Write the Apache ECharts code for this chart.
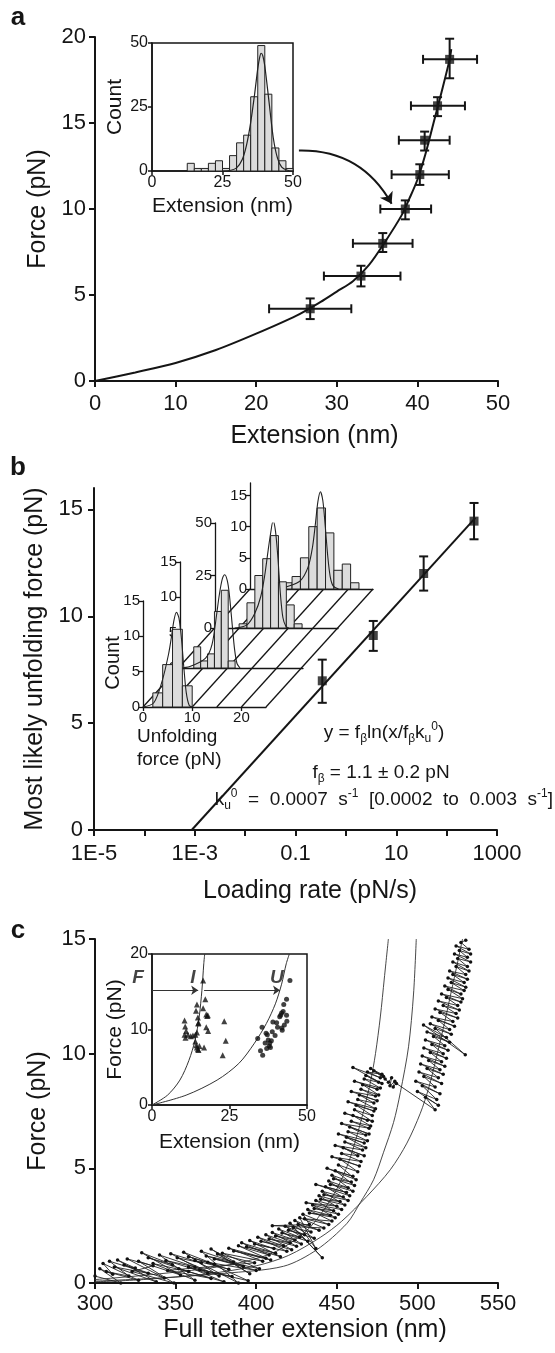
<!DOCTYPE html>
<html><head><meta charset="utf-8">
<script src="https://cdn.jsdelivr.net/npm/echarts@6/dist/echarts.min.js"></script>
<style>html,body{margin:0;padding:0;background:#fff}#chart{width:555px;height:1353px}</style>
</head><body><div id="chart"></div>
<script>
// ================= DATA =================
// ---- panel a: force-extension points with error bars ----
const aExt      = [26.7, 33.0, 35.7, 38.5, 40.3, 40.9, 42.5, 44.0];
const aForce    = [4.2, 6.1, 8.0, 10.0, 12.0, 14.0, 16.0, 18.7];
const aExtLo    = [21.6, 28.4, 32.0, 35.4, 36.8, 37.7, 39.2, 40.7];
const aExtHi    = [31.8, 37.9, 39.4, 41.7, 43.9, 44.0, 45.9, 47.4];
const aForceLo  = [3.6, 5.5, 7.5, 9.4, 11.4, 13.4, 15.4, 17.6];
const aForceHi  = [4.8, 6.7, 8.6, 10.5, 12.6, 14.5, 16.5, 19.9];
const aFitExt   = [0, 5, 10, 15, 20, 25, 28, 30, 32, 34, 36, 38, 39, 40, 41, 42, 43, 44, 44.2];
const aFitForce = [0, 0.5, 1.05, 1.8, 2.75, 3.8, 4.6, 5.2, 5.8, 6.75, 8.1, 9.6, 10.6, 11.7, 13.2, 15.0, 16.8, 18.7, 19.3];
const aArrowFrom = [25.3, 13.4];
const aArrowTo   = [36.8, 10.3];
// panel a inset histogram
const aHistCenter = [13.75, 16.25, 18.75, 21.25, 23.75, 26.25, 28.75, 31.25, 33.75, 36.25, 38.75, 41.25, 43.75, 46.25, 48.75];
const aHistCount  = [3, 1, 1, 3, 4, 1, 6, 11, 14, 29, 49, 30, 9, 4, 1];
const aHistWidth  = 2.5;
const aGaussExt   = [25, 28, 30, 32, 33.5, 35, 36.5, 37.5, 38.2, 38.7, 39.3, 40, 41.5, 43, 44.5, 46, 48, 50];
const aGaussCount = [0, 0.3, 1.2, 4.5, 10, 19, 31, 40, 44.5, 46, 45, 41, 27, 13, 5, 1.5, 0.3, 0];

// ---- panel b: loading-rate dependence ----
const bRate      = [0.34, 3.5, 35, 350];
const bForce     = [6.98, 9.1, 12.0, 14.45];
const bForceLo   = [5.95, 8.38, 11.2, 13.6];
const bForceHi   = [7.97, 9.78, 12.8, 15.3];
const bFitRate   = [0.00087, 372];
const bFitForce  = [0, 14.6];
const bTickValues = [1e-5, 1e-4, 1e-3, 1e-2, 0.1, 1, 10, 100, 1000];
const bLabelValues = [1e-5, 1e-3, 0.1, 10, 1000];
const bLabelTexts  = ['1E-5', '1E-3', '0.1', '10', '1000'];
// panel b inset histograms (front to back)
const h1Center = [3, 5, 7, 9];                    const h1Count = [2, 6, 11, 3];          const h1Width = 2;
const h2Center = [3.5, 4.9, 6.3, 7.7, 9.1, 10.5]; const h2Count = [3, 1, 2, 8, 11, 1];    const h2Width = 1.4;
const h3Center = [5.7, 7.3, 8.9, 10.5, 12.1, 13.7, 15.3, 16.9]; const h3Count = [2, 12, 25, 33, 44, 22, 11, 2]; const h3Width = 1.6;
const h4Center = [7.7, 9.4, 11.1, 12.8, 14.5, 16.2, 17.9, 19.6, 21.3]; const h4Count = [1, 2, 5, 10, 13, 9, 3, 4, 1]; const h4Width = 1.7;
const g1X = [0, 2.2, 3.9, 5.2, 5.8, 6.3, 6.8, 7.3, 7.8, 8.3, 8.8, 9.4, 10];
const g1Y = [0, 0.6, 3.7, 7.5, 10, 12.3, 13.4, 12.6, 9.8, 5.6, 2, 0.2, 0];
const g2X = [0, 2, 5.2, 6.5, 7.45, 8.0, 8.6, 9.1, 9.6, 10.0, 10.6, 11.1, 11.6, 12.2];
const g2Y = [0, 0.2, 1.4, 3.3, 7.6, 10.4, 12.6, 13.2, 12.4, 10.6, 6.2, 2.6, 0.6, 0];
const g3X = [4, 6.5, 8.1, 9.3, 10.1, 10.8, 11.3, 11.8, 12.3, 12.8, 13.3, 13.8, 14.4, 15];
const g3Y = [0, 1.5, 7, 15, 25, 37, 45, 51, 46, 33, 16, 5, 0.8, 0];
const g4X = [6, 7.3, 10.2, 11.8, 12.7, 13.3, 13.8, 14.3, 14.8, 15.3, 15.8, 16.3, 16.9, 18];
const g4Y = [0, 0.3, 1.3, 3.5, 6.7, 10.5, 14, 15.6, 14.2, 10, 5.3, 2, 0.5, 0];
const floorTicks = [0, 5, 10, 15, 20, 25];

// ---- panel c: full tether trace, [extension nm, force pN] in time order ----
const cTrace = [
 [300,0.3],[316,0.0],[303,0.62],[311,0.38],[305,0.85],[327,0.12],[307,0.5],[321,0.3],[309,0.95],[333,0.42],
 [312,0.7],[338,0.05],[314,1.0],[325,0.65],[318,0.78],[343,0.22],[320,1.05],[336,0.75],[323,0.5],[349,0.0],
 [327,0.95],[353,0.35],[329,1.32],[348,0.8],[333,1.1],[358,0.5],[336,0.85],[362,0.12],[340,1.22],[362,0.7],
 [344,0.98],[370,0.42],[347,1.28],[366,0.88],[351,1.1],[377,0.3],[355,1.34],[374,0.82],[358,1.15],[383,0.6],
 [362,0.98],[389,0.0],[366,1.38],[386,0.92],[369,1.18],[392,0.72],[372,1.48],[396,0.4],[376,1.26],[399,0.88],
 [345,0.55],[372,0.2],[352,0.62],[380,0.05],[358,0.7],[385,0.28],[365,0.58],[395,0.1],[370,0.9],[400,0.55],
 [374,1.05],[402,0.62],[379,1.3],[404,0.95],[383,1.52],[406,1.08],[386,1.4],[409,1.0],[389,1.62],[408,1.22],
 [391,1.75],[412,1.3],[394,1.58],[415,1.15],[396,1.85],[411,1.5],[399,1.7],[419,1.38],[401,2.0],[417,1.62],
 [403,1.82],[422,1.45],[406,2.1],[421,1.75],[408,1.92],[425,1.6],[410,2.2],[424,1.88],[412,2.05],[428,1.7],
 [414,2.35],[427,2.0],[416,2.18],[432,1.82],[418,2.48],[430,2.1],[420,2.3],[436,1.95],[421,2.6],[441,1.1],
 [423,2.42],[434,2.22],[424,2.72],[439,2.3],[426,2.55],[437,1.5],[427,2.85],[442,2.4],[410,2.5],[433,2.55],
 [429,3.0],[445,2.55],[430,2.8],[447,2.7],[432,3.2],[446,2.95],[433,3.05],[449,2.85],[435,3.4],[448,3.15],
 [436,3.25],[451,3.0],[437,3.6],[450,3.35],[431,3.5],[453,3.2],[439,3.8],[452,3.55],[440,3.65],[455,3.4],
 [441,4.0],[454,3.75],[442,3.85],[457,3.6],[443,4.2],[456,3.95],[437,4.3],[458,3.8],[445,4.45],[457,4.15],
 [446,4.3],[460,4.0],[447,4.7],[459,4.4],[448,4.55],[461,4.25],[449,4.9],[460,4.65],[444,5.0],[462,4.5],
 [451,5.15],[463,4.85],[452,5.4],[464,5.1],[447,5.5],[465,5.3],[453,5.65],[463,5.55],[454,5.9],[467,5.55],
 [449,6.0],[466,5.8],[455,6.15],[468,5.9],[456,6.35],[467,6.1],[451,6.5],[469,6.2],[457,6.6],[468,6.45],
 [458,6.8],[470,6.5],[453,6.95],[470,6.75],[459,7.05],[471,6.85],[460,7.3],[469,7.1],[455,7.4],[472,7.05],
 [461,7.55],[472,7.3],[462,7.75],[473,7.5],[457,7.9],[474,7.6],[463,8.0],[473,7.85],[464,8.2],[475,7.95],
 [459,8.35],[474,8.15],[465,8.45],[476,8.2],[466,8.65],[475,8.45],[461,8.8],[477,8.5],[467,8.9],[476,8.75],
 [468,9.05],[478,8.7],[460,9.4],[477,8.95],[469,9.2],[478,9.1],[471,9.35],[479,9.0],[473,9.25],[480,8.9],
 [482,8.75],[484,8.95],[483,8.6],[486,8.8],[485,8.55],[487,8.7],[511,7.55],
 [505,8.1],[513,7.75],[500,8.35],[512,8.0],[503,8.6],[514,8.25],[499,8.8],[511,8.55],[504,9.0],[515,8.7],
 [501,9.2],[513,8.95],[506,9.35],[516,9.1],[502,9.55],[514,9.3],[507,9.7],[517,9.45],[503,9.9],[515,9.65],
 [508,10.05],[518,9.8],[504,10.25],[516,10.0],[509,10.4],[519,10.15],[505,10.6],[517,10.35],[510,10.75],[520,10.5],
 [506,10.95],[518,10.7],[503.8,11.25],[529.7,9.95],[511,11.1],[521,10.85],[508,11.3],[520,11.05],[513,11.45],[523,11.2],
 [509,11.6],[522,11.4],[514,11.8],[525,11.55],[511,11.95],[524,11.75],[516,12.1],[526,11.9],[513,12.3],[525,12.1],
 [518,12.45],[527,12.25],[515,12.6],[528,12.4],[519,12.8],[527,12.6],[517,12.95],[529,12.75],[521,13.1],[530,12.9],
 [519,13.3],[529,13.1],[522,13.45],[531,13.25],[520,13.6],[530,13.45],[524,13.8],[532,13.6],[522,14.0],[531,13.8],
 [525,14.15],[533,14.0],[523,14.35],[531,14.2],[526,14.5],[533,14.35],[524,14.7],[532,14.55],[527,14.85],[530,14.95]
];
const cCurveAExt   = [300, 340, 380, 410, 430, 440, 450, 457, 462, 467, 471, 474, 477, 479.5, 482];
const cCurveAForce = [0.15, 0.4, 0.75, 1.3, 2.2, 3.0, 4.1, 5.2, 6.3, 7.6, 8.8, 10.0, 11.6, 13.3, 15];
const cCurveBExt   = [300, 340, 380, 417, 437.6, 456.3, 464.5, 472.8, 479, 485.2, 489.4, 494.5, 497.6, 499.3];
const cCurveBForce = [0.08, 0.22, 0.42, 0.73, 1.45, 2.6, 3.5, 4.5, 5.7, 7.0, 8.3, 10.3, 12.6, 15];
const cCurveCExt   = [300, 330, 370, 400, 420, 440, 453, 468.7, 483.2, 493.5, 501.8, 507, 512, 517, 521, 525, 528];
const cCurveCForce = [0.05, 0.15, 0.4, 0.75, 1.2, 2.0, 2.69, 3.78, 4.94, 6.1, 7.4, 8.5, 9.9, 11.4, 12.7, 14, 15];
// panel c inset
const ciTriExt   = [10.5,10.7,11.0,10.5,10.8,11.6,12.5,13.2,14.0,14.5,14.9,14.8,14.5,14.2,15.0,16.5,17.2,17.5,17.8,18.0,17.5,18.1,16.8,15.3,14.8,14.3,14.0,15.0,14.5,23.3,23.8,22.8,16.5];
const ciTriForce = [11.2,10.4,9.8,9.3,8.9,9.3,9.1,9.2,9.3,9.6,10.8,11.6,13.3,12.5,10.9,16.5,14.0,12.0,11.8,11.9,10.3,9.8,7.6,7.8,7.4,7.9,8.4,7.3,7.6,11.1,8.5,6.6,12.8];
const ciDotExt   = [34.1,35.5,35.0,35.7,36.5,36.8,37.2,37.5,37.8,38.2,38.5,37.0,38.8,39.0,39.7,40.5,40.2,41.2,41.8,42.3,41.5,42.5,43.4,44.5,41.9,42.7,43.5,43.4,42.0,38.0];
const ciDotForce = [8.8,10.3,7.2,6.6,8.2,9.5,9.3,8.6,7.8,7.6,8.5,7.5,9.7,11.0,9.2,10.3,10.9,11.7,12.2,12.4,11.9,13.3,14.0,16.5,10.2,10.6,11.1,11.9,9.9,8.2];
const ciCurveIExt   = [0, 5, 9, 11.9, 13.9, 15.2, 16.1, 16.7, 17.0];
const ciCurveIForce = [0, 1.3, 3.3, 5.9, 8.6, 11.6, 15.2, 18.7, 20];
const ciCurveUExt   = [0, 11, 21, 28, 32.9, 36.9, 39.8, 41.8, 43.3, 44.3];
const ciCurveUForce = [0, 1.3, 3.3, 5.5, 8.1, 10.8, 13.4, 16, 18.7, 20];
const ciArrows = [[[0, 15.2], [14.9, 15.2]], [[16.8, 15.2], [41.3, 15.2]]];
const ciStateNames = ['F', 'I', 'U'];
const ciStateExt   = [-4.5, 13.2, 40.3];
const ciStateForce = [16.8, 16.8, 16.8];

// ================= STYLE HELPERS =================
const FONT = "'Liberation Sans', Arial, Helvetica, sans-serif";
const INK = '#151515';
const zip = (a, b) => a.map((v, i) => [v, b[i]]);

function axisBase(opts) {
  const lw = opts.lw || 2;
  return {
    type: 'value',
    axisLine: { show: true, onZero: false, lineStyle: { color: INK, width: lw } },
    axisTick: { show: true, inside: false, length: opts.tick || 6, lineStyle: { color: INK, width: lw } },
    axisLabel: { show: true, color: INK, fontFamily: FONT, fontSize: opts.fs || 22, margin: opts.margin || 10 },
    splitLine: { show: false },
    nameTextStyle: { color: INK, fontFamily: FONT, fontSize: opts.nfs || 25 }
  };
}
function mergeDeep(a, b) {
  for (const k in b) {
    if (b[k] && typeof b[k] === 'object' && !Array.isArray(b[k]) && a[k] && typeof a[k] === 'object') mergeDeep(a[k], b[k]);
    else a[k] = b[k];
  }
  return a;
}
function mkAxis(base, extra) { return mergeDeep(axisBase(base), extra); }

function errRender(params, api) {
  const x = api.value(0), y = api.value(1);
  const xl = api.value(2), xh = api.value(3), yl = api.value(4), yh = api.value(5);
  const st = { stroke: INK, lineWidth: 2 };
  const cap = 4.5;
  const kids = [];
  if (xl !== xh) {
    const L = api.coord([xl, y]), R = api.coord([xh, y]);
    kids.push({ type: 'line', shape: { x1: L[0], y1: L[1], x2: R[0], y2: R[1] }, style: st });
    kids.push({ type: 'line', shape: { x1: L[0], y1: L[1] - cap, x2: L[0], y2: L[1] + cap }, style: st });
    kids.push({ type: 'line', shape: { x1: R[0], y1: R[1] - cap, x2: R[0], y2: R[1] + cap }, style: st });
  }
  const T = api.coord([x, yh]), B = api.coord([x, yl]);
  kids.push({ type: 'line', shape: { x1: T[0], y1: T[1], x2: B[0], y2: B[1] }, style: st });
  kids.push({ type: 'line', shape: { x1: T[0] - cap, y1: T[1], x2: T[0] + cap, y2: T[1] }, style: st });
  kids.push({ type: 'line', shape: { x1: B[0] - cap, y1: B[1], x2: B[0] + cap, y2: B[1] }, style: st });
  return { type: 'group', children: kids };
}
function barRender(params, api) {
  const c = api.value(0), n = api.value(1), w = api.value(2);
  const p1 = api.coord([c - w / 2, n]), p2 = api.coord([c + w / 2, 0]);
  return { type: 'rect', shape: { x: p1[0], y: p1[1], width: p2[0] - p1[0], height: p2[1] - p1[1] },
           style: { fill: '#dcdcdc', stroke: '#222', lineWidth: 1 } };
}
function histSeries(idx, centers, counts, width, gx, gy, z) {
  return [
    { type: 'custom', xAxisIndex: idx, yAxisIndex: idx, renderItem: barRender, z: z, clip: false,
      data: centers.map((c, i) => [c, counts[i], width]) },
    { type: 'line', xAxisIndex: idx, yAxisIndex: idx, data: zip(gx, gy), smooth: 0.3, showSymbol: false, z: z + 0.5,
      lineStyle: { color: '#222', width: 1.1 } }
  ];
}

// ================= GRIDS =================
const grids = [
  { left: 95, top: 37, width: 403, height: 344 },                  // 0 a main
  { left: 152, top: 43, width: 141, height: 128, show: true, backgroundColor: '#fff', borderColor: INK, borderWidth: 1.5 }, // 1 a inset
  { left: 94, top: 488, width: 403, height: 342 },                 // 2 b main
  { left: 143, top: 601, width: 123, height: 106 },                // 3 hist 1 (front)
  { left: 180, top: 562, width: 123, height: 106 },                // 4 hist 2
  { left: 215, top: 523, width: 123, height: 105 },                // 5 hist 3
  { left: 250, top: 483, width: 123, height: 106 },                // 6 hist 4 (back)
  { left: 95, top: 939, width: 403, height: 344 },                 // 7 c main
  { left: 152, top: 954, width: 155, height: 151, show: true, backgroundColor: '#fff', borderColor: INK, borderWidth: 1.5 } // 8 c inset
].map(g => Object.assign({ containLabel: false, outerBoundsMode: 'none' }, g));

const insetAx = { lw: 1.5, tick: 4, fs: 16, margin: 4, nfs: 21 };
const histAx = { lw: 1.3, tick: 4, fs: 15, margin: 3 };

const xAxes = [
  mkAxis({ margin: 12 }, { gridIndex: 0, min: 0, max: 50, interval: 10, name: 'Extension (nm)', nameLocation: 'middle', nameGap: 43, nameTextStyle: { padding: [0, 0, 0, 36] } }),
  mkAxis(insetAx, { gridIndex: 1, min: 0, max: 50, interval: 25, name: 'Extension (nm)', nameLocation: 'middle', nameGap: 25 }),
  mkAxis({ margin: 13 }, { gridIndex: 2, type: 'log', logBase: 10, min: 1e-5, max: 1000,
    axisTick: { customValues: bTickValues },
    axisLabel: { customValues: bLabelValues, formatter: v => { const i = bLabelValues.findIndex(t => Math.abs(Math.log10(t) - Math.log10(v)) < 1e-6); return i >= 0 ? bLabelTexts[i] : ''; } },
    name: 'Loading rate (pN/s)', nameLocation: 'middle', nameGap: 49, nameTextStyle: { padding: [0, 0, 0, 29] } }),
  mkAxis(histAx, { gridIndex: 3, min: 0, max: 25, axisTick: { customValues: [0, 10, 20] }, axisLabel: { customValues: [0, 10, 20] } }),
  mkAxis(histAx, { gridIndex: 4, min: 0, max: 25, axisTick: { show: false }, axisLabel: { show: false } }),
  mkAxis(histAx, { gridIndex: 5, min: 0, max: 25, axisTick: { show: false }, axisLabel: { show: false } }),
  mkAxis(histAx, { gridIndex: 6, min: 0, max: 25, axisTick: { show: false }, axisLabel: { show: false } }),
  mkAxis({ margin: 10 }, { gridIndex: 7, min: 300, max: 550, interval: 50, name: 'Full tether extension (nm)', nameLocation: 'middle', nameGap: 35, nameTextStyle: { padding: [0, 0, 0, 17] } }),
  mkAxis(insetAx, { gridIndex: 8, min: 0, max: 50, interval: 25, name: 'Extension (nm)', nameLocation: 'middle', nameGap: 27 })
];
const yAxes = [
  mkAxis({ margin: 9 }, { gridIndex: 0, min: 0, max: 20, interval: 5, name: 'Force (pN)', nameLocation: 'middle', nameGap: 37 }),
  mkAxis(insetAx, { gridIndex: 1, min: 0, max: 50, interval: 25, name: 'Count', nameLocation: 'middle', nameGap: 26 }),
  mkAxis({ margin: 11 }, { gridIndex: 2, min: 0, max: 16, axisTick: { customValues: [0, 5, 10, 15] }, axisLabel: { customValues: [0, 5, 10, 15] },
    name: 'Most likely unfolding force (pN)', nameLocation: 'middle', nameGap: 39 }),
  mkAxis(histAx, { gridIndex: 3, min: 0, max: 15, axisTick: { customValues: [0, 5, 10, 15] }, axisLabel: { customValues: [0, 5, 10, 15] } }),
  mkAxis(histAx, { gridIndex: 4, min: 0, max: 15, axisTick: { customValues: [0, 5, 10, 15] }, axisLabel: { customValues: [0, 5, 10, 15] } }),
  mkAxis(histAx, { gridIndex: 5, min: 0, max: 50, axisTick: { customValues: [0, 25, 50] }, axisLabel: { customValues: [0, 25, 50] } }),
  mkAxis(histAx, { gridIndex: 6, min: 0, max: 17, axisTick: { customValues: [0, 5, 10, 15] }, axisLabel: { customValues: [0, 5, 10, 15] } }),
  mkAxis({ margin: 9 }, { gridIndex: 7, min: 0, max: 15, interval: 5, name: 'Force (pN)', nameLocation: 'middle', nameGap: 38 }),
  mkAxis(insetAx, { gridIndex: 8, min: 0, max: 20, interval: 10, name: 'Force (pN)', nameLocation: 'middle', nameGap: 26 })
];

// ================= SERIES =================
const series = [
  // a main
  { type: 'line', xAxisIndex: 0, yAxisIndex: 0, data: zip(aFitExt, aFitForce), smooth: 0.3, showSymbol: false, lineStyle: { color: INK, width: 2 }, z: 2 },
  { type: 'custom', xAxisIndex: 0, yAxisIndex: 0, renderItem: errRender, z: 3, clip: false,
    data: aExt.map((v, i) => [v, aForce[i], aExtLo[i], aExtHi[i], aForceLo[i], aForceHi[i]]) },
  { type: 'scatter', xAxisIndex: 0, yAxisIndex: 0, data: zip(aExt, aForce), symbol: 'rect', symbolSize: 9, itemStyle: { color: INK }, z: 4 },
  { type: 'lines', coordinateSystem: 'cartesian2d', xAxisIndex: 0, yAxisIndex: 0, symbol: ['none', 'arrow'], symbolSize: 11,
    lineStyle: { color: INK, width: 2, curveness: 0.3, opacity: 1 }, data: [{ coords: [aArrowFrom, aArrowTo] }], z: 5 },
  // a inset
  { type: 'custom', xAxisIndex: 1, yAxisIndex: 1, renderItem: barRender, z: 3, data: aHistCenter.map((c, i) => [c, aHistCount[i], aHistWidth]) },
  { type: 'line', xAxisIndex: 1, yAxisIndex: 1, data: zip(aGaussExt, aGaussCount), smooth: 0.3, showSymbol: false, lineStyle: { color: '#222', width: 1.2 }, z: 4 },
  // b main
  { type: 'line', xAxisIndex: 2, yAxisIndex: 2, data: zip(bFitRate, bFitForce), showSymbol: false, lineStyle: { color: INK, width: 2 }, z: 2 },
  { type: 'custom', xAxisIndex: 2, yAxisIndex: 2, renderItem: errRender, z: 3, clip: false,
    data: bRate.map((v, i) => [v, bForce[i], v, v, bForceLo[i], bForceHi[i]]) },
  { type: 'scatter', xAxisIndex: 2, yAxisIndex: 2, data: zip(bRate, bForce), symbol: 'rect', symbolSize: 9, itemStyle: { color: INK }, z: 4 },
  // b inset histograms (back to front by z)
  ...histSeries(6, h4Center, h4Count, h4Width, g4X, g4Y, 3),
  ...histSeries(5, h3Center, h3Count, h3Width, g3X, g3Y, 5),
  ...histSeries(4, h2Center, h2Count, h2Width, g2X, g2Y, 7),
  ...histSeries(3, h1Center, h1Count, h1Width, g1X, g1Y, 9),
  // c main
  { type: 'line', xAxisIndex: 7, yAxisIndex: 7, data: zip(cCurveAExt, cCurveAForce), smooth: 0.3, showSymbol: false, lineStyle: { color: '#333', width: 0.9 }, z: 2 },
  { type: 'line', xAxisIndex: 7, yAxisIndex: 7, data: zip(cCurveBExt, cCurveBForce), smooth: 0.3, showSymbol: false, lineStyle: { color: '#333', width: 0.9 }, z: 2 },
  { type: 'line', xAxisIndex: 7, yAxisIndex: 7, data: zip(cCurveCExt, cCurveCForce), smooth: 0.3, showSymbol: false, lineStyle: { color: '#333', width: 0.9 }, z: 2 },
  { type: 'line', xAxisIndex: 7, yAxisIndex: 7, data: cTrace, symbol: 'circle', symbolSize: 3.5, showAllSymbol: true,
    itemStyle: { color: '#111' }, lineStyle: { color: '#222', width: 0.9 }, z: 3 },
  // c inset
  { type: 'line', xAxisIndex: 8, yAxisIndex: 8, data: zip(ciCurveIExt, ciCurveIForce), smooth: 0.3, showSymbol: false, lineStyle: { color: '#333', width: 1 }, z: 3 },
  { type: 'line', xAxisIndex: 8, yAxisIndex: 8, data: zip(ciCurveUExt, ciCurveUForce), smooth: 0.3, showSymbol: false, lineStyle: { color: '#333', width: 1 }, z: 3 },
  { type: 'scatter', xAxisIndex: 8, yAxisIndex: 8, data: zip(ciTriExt, ciTriForce), symbol: 'triangle', symbolSize: 6, itemStyle: { color: '#111' }, z: 4 },
  { type: 'scatter', xAxisIndex: 8, yAxisIndex: 8, data: zip(ciDotExt, ciDotForce), symbol: 'circle', symbolSize: 5, itemStyle: { color: '#111' }, z: 4 },
  { type: 'lines', coordinateSystem: 'cartesian2d', xAxisIndex: 8, yAxisIndex: 8, symbol: ['none', 'arrow'], symbolSize: 7,
    lineStyle: { color: '#333', width: 1, opacity: 1 }, data: ciArrows.map(c => ({ coords: c })), z: 5 },
  { type: 'scatter', xAxisIndex: 8, yAxisIndex: 8, clip: false, symbolSize: 0, z: 6,
    data: ciStateNames.map((n, i) => ({ value: [ciStateExt[i], ciStateForce[i]], name: n })),
    label: { show: true, position: 'inside', formatter: p => p.name, color: INK, fontFamily: FONT, fontSize: 19, fontStyle: 'italic', fontWeight: 'bold' } }
];

const chart = echarts.init(document.getElementById('chart'), null, { renderer: 'canvas' });
chart.setOption({ animation: false, backgroundColor: '#fff', grid: grids, xAxis: xAxes, yAxis: yAxes, series: series });

// ================= ANNOTATION GRAPHICS =================
const txt = (id, x, y, text, fs, extra) => ({ id, type: 'text', x, y, z: 20,
  style: Object.assign({ text, fill: INK, fontFamily: FONT, fontSize: fs, align: 'center', verticalAlign: 'middle', textAlign: 'center', textVerticalAlign: 'middle' }, extra || {}) });
const richEq = { sub: { fontSize: 12, verticalAlign: 'bottom', lineHeight: 12, fontFamily: FONT, fill: INK },
                 sup: { fontSize: 12, verticalAlign: 'top', lineHeight: 12, fontFamily: FONT, fill: INK } };
const eqStyle = { lineHeight: 24, rich: richEq };
const graphics = [
  txt('la', 18, 18, 'a', 26, { fontWeight: 'bold' }),
  txt('lb', 18, 468, 'b', 26, { fontWeight: 'bold' }),
  txt('lc', 18, 931, 'c', 26, { fontWeight: 'bold' }),
  txt('eq1', 384, 733, 'y = f{sub|β}ln(x/f{sub|β}k{sub|u}{sup|0})', 19, eqStyle),
  txt('eq2', 381, 773, 'f{sub|β} = 1.1 ± 0.2 pN', 19, eqStyle),
  txt('eq3', 553, 800, 'k{sub|u}{sup|0}  =  0.0007  s{sup|-1}  [0.0002  to  0.003  s{sup|-1}]', 19, Object.assign({ align: 'right', textAlign: 'right' }, eqStyle)),
  { id: 'bcount', type: 'text', x: 113, y: 663, rotation: Math.PI / 2, z: 20,
    style: { text: 'Count', fill: INK, fontFamily: FONT, fontSize: 20, align: 'center', verticalAlign: 'middle', textAlign: 'center', textVerticalAlign: 'middle' } },
  txt('bunf1', 137, 737, 'Unfolding', 19, { align: 'left', textAlign: 'left' }),
  txt('bunf2', 137, 760, 'force (pN)', 19, { align: 'left', textAlign: 'left' })
];
floorTicks.forEach((v, i) => {
  const p1 = chart.convertToPixel({ xAxisIndex: 3, yAxisIndex: 3 }, [v, 0]);
  const p2 = chart.convertToPixel({ xAxisIndex: 6, yAxisIndex: 6 }, [v, 0]);
  graphics.push({ id: 'floor' + i, type: 'line', z: 1, shape: { x1: p1[0], y1: p1[1], x2: p2[0], y2: p2[1] }, style: { stroke: INK, lineWidth: 1.3 } });
});
chart.setOption({ graphic: graphics });
</script>
</body></html>
